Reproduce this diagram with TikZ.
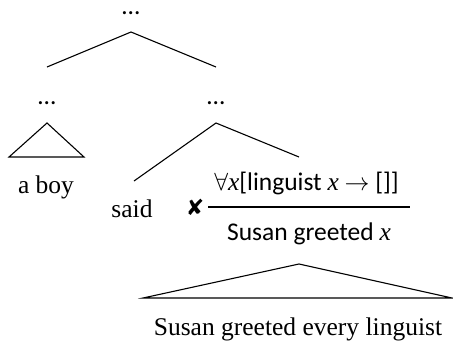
\documentclass[tikz,border=0pt]{standalone}
\usepackage{fontspec}
\setmainfont{Liberation Serif}
\setsansfont{Carlito}
\newfontfamily\symfont{DejaVu Sans}
\tikzset{
  lbl/.style={inner sep=0pt, outer sep=0pt, anchor=base, font=\fontsize{25.5}{30}\selectfont},
  sflbl/.style={lbl, font=\fontsize{25.5}{30}\selectfont\sffamily},
  edge/.style={line width=1.1pt},
}
\newcommand{\vx}{{\rmfamily\itshape x}}
\begin{document}
\begin{tikzpicture}[x=1pt,y=-1pt]
\useasboundingbox (0,0) rectangle (453,343);
% labels
\node[sflbl] (top) at (131,14.5) {…};
\node[sflbl] (l) at (47,104) {…};
\node[sflbl] (r) at (216,104) {…};
\node[lbl] (aboy) at (46,193) {a boy};
\node[lbl] (said) at (132,217) {said};
\node[lbl, font=\fontsize{22}{26}\symfont] (cross) at (195,215) {✘};
\node[sflbl] (fractop) at (306.5,190) {$\forall$\vx[linguist \vx\ $\rightarrow$ []]};
\node[sflbl] (fracbot) at (309,240) {Susan greeted \vx};
\node[lbl] (sent) at (298,335) {Susan greeted every linguist};
% apex / end points
\coordinate (topapex) at (131,32);
\coordinate (lend) at (47,67);
\coordinate (rend) at (216,67);
\coordinate (lapex) at (47,123);
\coordinate (lbl1) at (9,157);
\coordinate (lbr1) at (84,157);
\coordinate (rapex) at (216,123);
\coordinate (saidend) at (134,181);
\coordinate (fracend) at (299,157);
\coordinate (ruleL) at (208,207);
\coordinate (ruleR) at (410,207);
\coordinate (bapex) at (299,264);
\coordinate (bl) at (143,298);
\coordinate (br) at (452,298);
% connectors
\draw[edge] (lend) -- (topapex) -- (rend);
\draw[edge] (lapex) -- (lbl1) -- (lbr1) -- cycle;
\draw[edge] (saidend) -- (rapex) -- (fracend);
\draw[edge] (ruleL) -- (ruleR);
\draw[edge] (bapex) -- (bl) -- (br) -- cycle;
\end{tikzpicture}
\end{document}
